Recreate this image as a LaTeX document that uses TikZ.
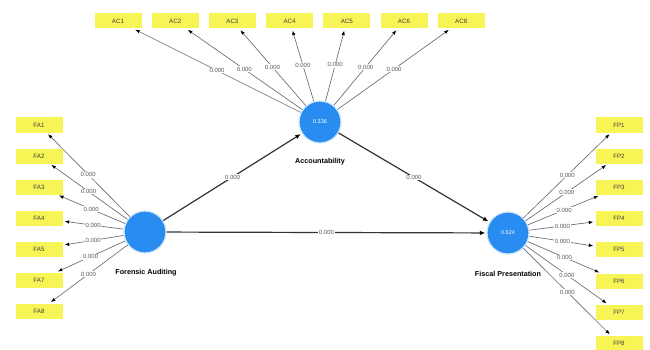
\documentclass[tikz,border=0pt]{standalone}
\usepackage{fontspec}
\setmainfont{Liberation Sans}
\usetikzlibrary{arrows.meta}

\definecolor{lvblue}{RGB}{40,140,240}
\definecolor{indyellow}{RGB}{247,245,85}
\definecolor{pathgray}{RGB}{50,50,55}
\definecolor{loadgray}{RGB}{105,105,120}

\begin{document}
\begin{tikzpicture}[x=1pt,y=-1pt,
  construct/.style={circle, fill=lvblue, draw=lvblue!22, line width=1.2pt,
    minimum size=42pt, inner sep=0pt, text=white, font=\fontsize{5.5}{6}\selectfont},
  indicator/.style={rectangle, fill=indyellow, minimum width=47pt, minimum height=15pt,
    inner sep=0pt, text=black!75, font=\fontsize{6.2}{7}\selectfont},
  cname/.style={inner sep=0pt, font=\bfseries\fontsize{7.2}{8}\selectfont},
  loading/.style={draw=loadgray, line width=0.65pt,
    -{Latex[length=4.5pt,width=3.5pt,color=black]}, shorten >=2pt},
  relation/.style={draw=pathgray, line width=1.2pt,
    -{Latex[length=5.5pt,width=4.5pt,color=black]}, shorten >=1pt},
  coef/.style={fill=white, inner sep=0.8pt, text=black!65, font=\fontsize{6}{7}\selectfont},
]
\useasboundingbox (0,0) rectangle (650,350);

% latent variables
\node[construct] (fa)  at (145,232) {};
\node[construct] (acc) at (320,122) {0.336};
\node[construct] (fp)  at (508,233) {0.624};
\node[cname] (faname)  at (146,273) {Forensic Auditing};
\node[cname] (accname) at (320,162) {Accountability};
\node[cname] (fpname)  at (508,274) {Fiscal Presentation};

% indicators of Accountability
\foreach \t [count=\i] in {1,2,3,4,5,6,8} {
  \pgfmathsetmacro\xx{118+57.2*(\i-1)}
  \node[indicator] (ac\i) at (\xx,21) {AC\t};
  \draw[loading] (acc) -- coordinate[midway] (acm\i) (ac\i);
}
% indicators of Forensic Auditing
\foreach \t [count=\i] in {1,2,3,4,5,7,8} {
  \pgfmathsetmacro\yy{125+31*(\i-1)}
  \node[indicator] (fa\i) at (39,\yy) {FA\t};
  \draw[loading] (fa) -- coordinate[midway] (fam\i) (fa\i);
}
% indicators of Fiscal Presentation
\foreach \i in {1,...,8} {
  \pgfmathsetmacro\yy{125+31.2*(\i-1)}
  \node[indicator] (fp\i) at (619,\yy) {FP\i};
  \draw[loading] (fp) -- coordinate[midway] (fpm\i) (fp\i);
}

% outer weights
\foreach \i in {1,...,7} {
  \node[coef] (acw\i) at (acm\i) {0.000};
  \node[coef] (faw\i) at (fam\i) {0.000};
}
\foreach \i in {1,...,8} {
  \node[coef] (fpw\i) at (fpm\i) {0.000};
}

% structural paths
\draw[relation] (fa)  -- node[coef] (p1) {0.000} (acc);
\draw[relation] (fa)  -- node[coef] (p2) {0.000} (fp);
\draw[relation] (acc) -- node[coef] (p3) {0.000} (fp);
\end{tikzpicture}
\end{document}
